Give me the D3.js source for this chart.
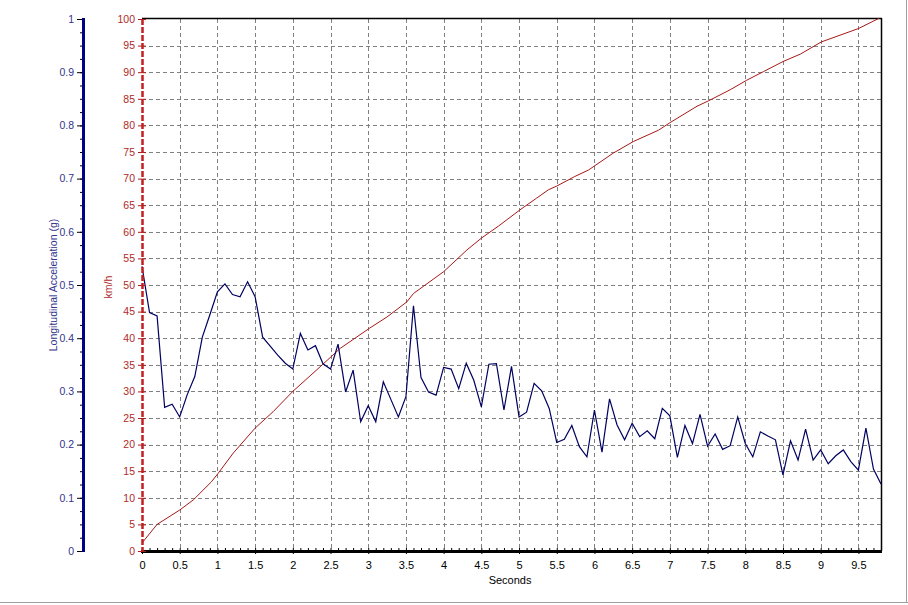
<!DOCTYPE html>
<html>
<head>
<meta charset="utf-8">
<script src="https://cdn.jsdelivr.net/npm/d3@7"></script>
<style>
  html, body { margin: 0; padding: 0; background: #fff; }
  svg { display: block; font-family: "Liberation Sans", Arial, sans-serif; }
</style>
</head>
<body>
<svg id="chart" width="908" height="605"></svg>
<script>
// ---- data ----
const SAMPLE_STEP = 0.1; // seconds between acceleration samples
const accelG = [
  0.535, 0.448, 0.442, 0.270, 0.276, 0.252, 0.294, 0.328, 0.402, 0.444,
  0.487, 0.502, 0.482, 0.478, 0.506, 0.478, 0.402, 0.385, 0.368, 0.353,
  0.342, 0.409, 0.378, 0.386, 0.352, 0.342, 0.389, 0.299, 0.340, 0.243,
  0.273, 0.243, 0.318, 0.285, 0.252, 0.290, 0.461, 0.326, 0.299, 0.293,
  0.345, 0.342, 0.305, 0.353, 0.321, 0.271, 0.351, 0.352, 0.265, 0.347,
  0.252, 0.261, 0.315, 0.301, 0.268, 0.204, 0.210, 0.236, 0.196, 0.177,
  0.265, 0.186, 0.286, 0.237, 0.209, 0.240, 0.215, 0.226, 0.211, 0.268,
  0.254, 0.176, 0.236, 0.202, 0.257, 0.197, 0.220, 0.191, 0.198, 0.252,
  0.202, 0.177, 0.224, 0.216, 0.209, 0.143, 0.207, 0.171, 0.229, 0.171,
  0.190, 0.164, 0.179, 0.190, 0.168, 0.152, 0.231, 0.154, 0.126
];
const speedTimes = [
  0.00, 0.20, 0.50, 0.68, 0.92, 1.01, 1.21, 1.50, 1.74, 2.00,
  2.36, 2.63, 3.02, 3.25, 3.51, 3.60, 4.00, 4.31, 4.50, 4.73,
  5.01, 5.23, 5.39, 5.50, 5.74, 5.92, 6.25, 6.52, 6.85, 7.00,
  7.36, 7.51, 7.80, 8.02, 8.24, 8.50, 8.73, 9.01, 9.50, 9.77
];
const speedKmh = [
  1.5, 5.0, 7.7, 9.6, 13.0, 14.6, 18.4, 23.1, 26.2, 30.0,
  34.6, 38.1, 41.9, 44.0, 46.8, 48.4, 52.5, 56.6, 58.8, 61.1,
  64.1, 66.3, 67.9, 68.6, 70.4, 71.6, 74.8, 77.0, 79.1, 80.5,
  83.6, 84.6, 86.7, 88.5, 90.1, 92.0, 93.4, 95.7, 98.2, 100.1
];
const xTicks = [0, 0.5, 1, 1.5, 2, 2.5, 3, 3.5, 4, 4.5, 5, 5.5, 6, 6.5, 7, 7.5, 8, 8.5, 9, 9.5];
const speedTicks = [0, 5, 10, 15, 20, 25, 30, 35, 40, 45, 50, 55, 60, 65, 70, 75, 80, 85, 90, 95, 100];
const accTicks = [0, 0.1, 0.2, 0.3, 0.4, 0.5, 0.6, 0.7, 0.8, 0.9, 1];
const xDomain = [0, 9.8];
const speedDomain = [0, 100];
const accDomain = [0, 1];
const xTitle = "Seconds";
const speedTitle = "km/h";
const accTitle = "Longitudinal Acceleration (g)";

// ---- layout ----
const L = 142, R = 881, T = 19, B = 551, accAxisX = 83;
const FONT = "'Liberation Sans', Arial, sans-serif";
const svg = d3.select("#chart");

const x = d3.scaleLinear().domain(xDomain).range([L, R]);
const y = d3.scaleLinear().domain(speedDomain).range([B, T]);
const yA = d3.scaleLinear().domain(accDomain).range([B, T]);

// window border
svg.append("line").attr("x1", 0).attr("x2", 908).attr("y1", 602.5).attr("y2", 602.5)
  .attr("stroke", "#a0a0a0").attr("stroke-width", 1);
svg.append("line").attr("x1", 906.5).attr("x2", 906.5).attr("y1", 0).attr("y2", 603)
  .attr("stroke", "#a0a0a0").attr("stroke-width", 1);

// grid
const grid = svg.append("g").attr("stroke", "#808080").attr("stroke-width", 1)
  .attr("stroke-dasharray", "4,3");
grid.selectAll("line.h").data(speedTicks.filter(d => d > 0 && d < 100)).join("line")
  .attr("x1", L).attr("x2", R)
  .attr("y1", d => Math.round(y(d)) + 0.5).attr("y2", d => Math.round(y(d)) + 0.5);
grid.selectAll("line.v").data(xTicks.filter(d => d > 0)).join("line")
  .attr("y1", T).attr("y2", B)
  .attr("x1", d => Math.round(x(d)) + 0.5).attr("x2", d => Math.round(x(d)) + 0.5);

// top & right borders
svg.append("line").attr("x1", L).attr("x2", R + 1).attr("y1", T - 0.5).attr("y2", T - 0.5)
  .attr("stroke", "#000").attr("stroke-width", 1.5);
svg.append("line").attr("x1", R + 0.5).attr("x2", R + 0.5).attr("y1", T - 1).attr("y2", B)
  .attr("stroke", "#000").attr("stroke-width", 1.5);

// speed line (red)
const speedLine = d3.line().x((d, i) => x(speedTimes[i])).y(d => y(d));
svg.append("path").datum(speedKmh).attr("d", speedLine)
  .attr("fill", "none").attr("stroke", "#a81818").attr("stroke-width", 1);

// acceleration line (blue)
const accLine = d3.line().x((d, i) => x(i * SAMPLE_STEP)).y(d => yA(d));
svg.append("path").datum(accelG).attr("d", accLine)
  .attr("fill", "none").attr("stroke", "#000060").attr("stroke-width", 1.2);

// bottom axis
const xMinor = d3.range(0, 98).map(i => i * 0.1);
svg.append("g").attr("transform", `translate(0,${B})`)
  .call(d3.axisTop(x).tickValues(xMinor).tickSize(3).tickFormat(""))
  .call(g => g.select(".domain").remove())
  .selectAll("line").attr("stroke", "#000");
const xAx = svg.append("g").attr("transform", `translate(0,${B})`)
  .call(d3.axisBottom(x).tickValues(xTicks).tickSize(3).tickPadding(7)
    .tickFormat(d => String(d)));
xAx.select(".domain").remove();
xAx.selectAll("text").attr("font-size", 11).attr("fill", "#000").attr("font-family", FONT);
svg.append("line").attr("x1", L - 1).attr("x2", R + 1).attr("y1", B + 0.5).attr("y2", B + 0.5)
  .attr("stroke", "#000").attr("stroke-width", 3);
svg.append("text").attr("x", x(5) - 9).attr("y", 584).attr("text-anchor", "middle")
  .attr("font-size", 11).attr("fill", "#000").attr("font-family", FONT).text(xTitle);

// speed axis (red)
const sAx = svg.append("g").attr("transform", `translate(${L},0)`)
  .call(d3.axisLeft(y).tickValues(speedTicks).tickSize(4).tickPadding(3)
    .tickFormat(d => String(d)));
sAx.select(".domain").remove();
sAx.selectAll("line").attr("stroke", "#b01c1c").attr("x2", -4).attr("x1", 4);
sAx.selectAll("text").attr("font-size", 10.5).attr("fill", "#b02a2a").attr("font-family", FONT);
svg.append("line").attr("x1", L + 0.5).attr("x2", L + 0.5).attr("y1", T).attr("y2", B)
  .attr("stroke", "#c02020").attr("stroke-width", 2.5).attr("stroke-dasharray", "6,2");
svg.append("text").attr("transform", `translate(112,${(T + B) / 2 + 2}) rotate(-90)`)
  .attr("text-anchor", "middle").attr("font-size", 10.5).attr("fill", "#b02a2a")
  .attr("font-family", FONT).text(speedTitle);

// acceleration axis (blue)
const accMinor = d3.range(0, 41).map(i => i * 0.025);
svg.append("g").attr("transform", `translate(${accAxisX},0)`)
  .call(d3.axisLeft(yA).tickValues(accMinor).tickSize(3).tickFormat(""))
  .call(g => g.select(".domain").remove())
  .selectAll("line").attr("stroke", "#000");
const aAx = svg.append("g").attr("transform", `translate(${accAxisX},0)`)
  .call(d3.axisLeft(yA).tickValues(accTicks).tickSize(6).tickPadding(3)
    .tickFormat(d => String(d)));
aAx.select(".domain").remove();
aAx.selectAll("line").attr("stroke", "#000");
aAx.selectAll("text").attr("font-size", 10.5).attr("fill", "#33338c").attr("font-family", FONT);
svg.append("line").attr("x1", accAxisX + 0.5).attr("x2", accAxisX + 0.5).attr("y1", T - 1).attr("y2", B + 1)
  .attr("stroke", "#00008b").attr("stroke-width", 3);
svg.append("text").attr("transform", `translate(57,${(T + B) / 2}) rotate(-90)`)
  .attr("text-anchor", "middle").attr("font-size", 10.5).attr("fill", "#33338c")
  .attr("font-family", FONT).text(accTitle);
</script>
</body>
</html>
